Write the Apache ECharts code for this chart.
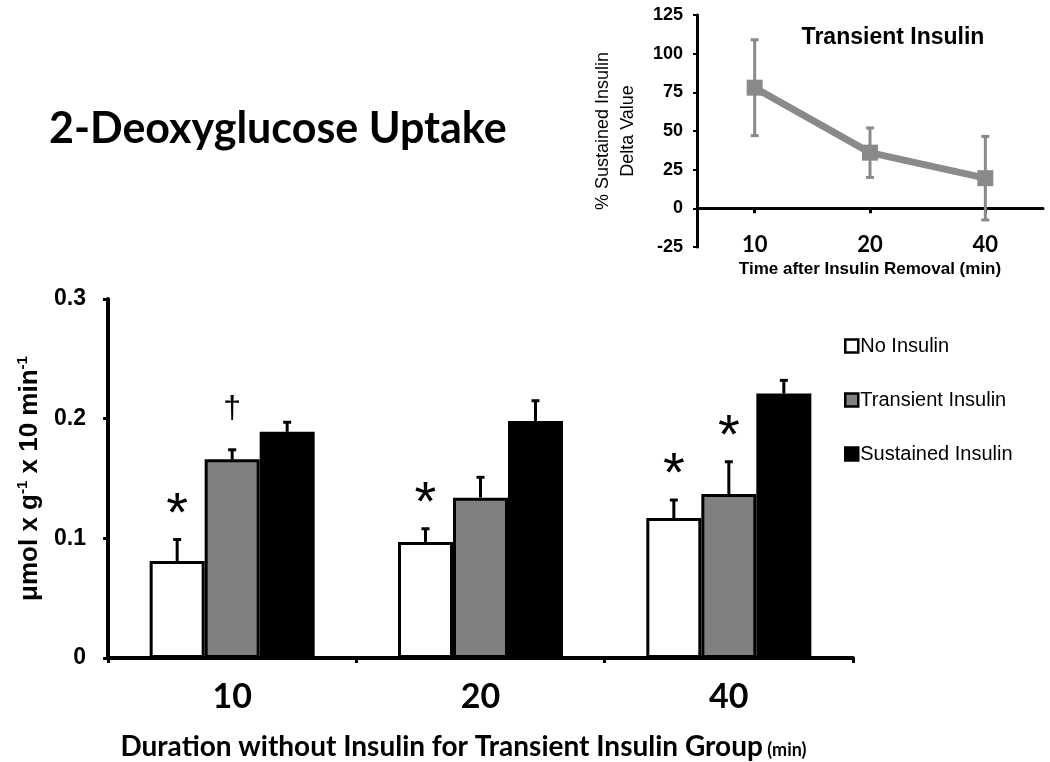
<!DOCTYPE html>
<html>
<head>
<meta charset="utf-8">
<script src="https://cdn.jsdelivr.net/npm/echarts@6/dist/echarts.min.js"></script>
<style>
html,body{margin:0;padding:0;background:#fff;}
#chart{width:1050px;height:762px;}
</style>
</head>
<body>
<div id="chart"></div>
<script>
// ---- Main chart data ----
const categories = ['10', '20', '40'];
const seriesNames = ['No Insulin', 'Transient Insulin', 'Sustained Insulin'];
const noInsulin = [0.081, 0.097, 0.117];
const noInsulinErr = [0.018, 0.011, 0.015];
const transientInsulin = [0.166, 0.134, 0.137];
const transientInsulinErr = [0.008, 0.017, 0.027];
const sustainedInsulin = [0.189, 0.198, 0.221];
const sustainedInsulinErr = [0.008, 0.017, 0.011];
// significance marks: [category index, series index, symbol]
const significance = [[0, 0, '*'], [0, 1, '\u2020'], [1, 0, '*'], [2, 0, '*'], [2, 1, '*']];

// ---- Inset data ----
const insetCategories = ['10', '20', '40'];
const insetMean = [78, 36, 19.5];
const insetErr = [31, 16, 27];

const BAR_W = 55;
const barValues = [noInsulin, transientInsulin, sustainedInsulin];
const barErrs = [noInsulinErr, transientInsulinErr, sustainedInsulinErr];
const barColors = ['#ffffff', '#808080', '#000000'];

const errData = [];
barValues.forEach((vals, s) => vals.forEach((v, i) => errData.push([i, v, barErrs[s][i], s])));
const sigData = significance.map(m => [m[0], barValues[m[1]][m[0]] + barErrs[m[1]][m[0]], m[1], m[2]]);
const insetErrData = insetMean.map((v, i) => [i, v - insetErr[i], v + insetErr[i]]);

const chart = echarts.init(document.getElementById('chart'));

const barSeries = seriesNames.map((name, s) => ({
  name: name,
  type: 'bar',
  xAxisIndex: 0, yAxisIndex: 0,
  barWidth: BAR_W,
  barGap: '0%',
  data: barValues[s],
  itemStyle: { color: barColors[s], borderColor: '#000', borderWidth: 3 },
  emphasis: { disabled: true },
  z: 2
}));

const ARIAL = 'Arial, "Liberation Sans"';

chart.setOption({
  animation: false,
  backgroundColor: '#fff',
  title: [
    { text: '2-Deoxyglucose Uptake', left: 44, top: 103,
      textStyle: { fontFamily: 'Lato', fontWeight: 'bold', fontSize: 43, color: '#000' } },
    { text: 'Transient Insulin', left: 888, top: 21, textAlign: 'center',
      textStyle: { fontFamily: ARIAL, fontWeight: 'bold', fontSize: 23, color: '#000' } }
  ],
  legend: {
    orient: 'vertical', left: 839, top: 331,
    itemWidth: 13, itemHeight: 13, itemGap: 34,
    icon: 'rect',
    data: seriesNames,
    itemStyle: { borderColor: '#000', borderWidth: 2.5 },
    textStyle: { fontFamily: ARIAL, fontSize: 20, color: '#000', padding: [0, 0, 0, -3] },
    selectedMode: false
  },
  grid: [
    { left: 108, right: 197, top: 299, bottom: 104, outerBoundsMode: 'none', containLabel: false },
    { left: 697, right: 7, top: 15, bottom: 515, outerBoundsMode: 'none', containLabel: false }
  ],
  xAxis: [
    { type: 'category', gridIndex: 0, data: categories,
      axisLine: { lineStyle: { color: '#000', width: 4 } },
      axisTick: { show: true, length: 5, lineStyle: { color: '#000', width: 3 } },
      axisLabel: { margin: 22, fontFamily: 'Lato', fontWeight: 'bold', fontSize: 34, color: '#000' },
      name: '{a|Duration without Insulin for Transient Insulin Group}{b| (min)}',
      nameLocation: 'middle', nameGap: 75,
      nameTextStyle: { padding: [0, 34, 0, 0],
        rich: { a: { fontFamily: 'Lato', fontWeight: 'bold', fontSize: 28, color: '#000' },
                b: { fontFamily: 'Lato', fontWeight: 'bold', fontSize: 18, color: '#000', padding: [6, 0, 0, 0] } } }
    },
    { type: 'category', gridIndex: 1, data: insetCategories,
      axisLine: { onZero: true, lineStyle: { color: '#000', width: 3 } },
      axisTick: { show: true, alignWithLabel: true, length: 5, lineStyle: { color: '#000', width: 3 } },
      axisLabel: { margin: -13, fontFamily: 'Lato', fontWeight: 'bold', fontSize: 22, color: '#000' },
      name: 'Time after Insulin Removal (min)', nameLocation: 'middle', nameGap: 14,
      nameTextStyle: { fontFamily: ARIAL, fontWeight: 'bold', fontSize: 17, color: '#000' }
    }
  ],
  yAxis: [
    { type: 'value', gridIndex: 0, min: 0, max: 0.3, interval: 0.1,
      splitLine: { show: false },
      axisLine: { show: true, lineStyle: { color: '#000', width: 4 } },
      axisTick: { show: true, length: 5, lineStyle: { color: '#000', width: 3 } },
      axisLabel: { margin: 22, fontFamily: ARIAL, fontWeight: 'bold', fontSize: 23, color: '#000' },
      name: '{a|\u03bcmol x g}{s|-1}{a| x 10 min}{s|-1}', nameLocation: 'middle', nameGap: 64,
      nameTextStyle: { padding: [0, 0, 0, 0],
        rich: { a: { fontFamily: ARIAL, fontWeight: 'bold', fontSize: 26, color: '#000' },
                s: { fontFamily: ARIAL, fontWeight: 'bold', fontSize: 15, color: '#000', padding: [0, 0, 14, 0] } } }
    },
    { type: 'value', gridIndex: 1, min: -25, max: 125, interval: 25,
      splitLine: { show: false },
      axisLine: { show: true, lineStyle: { color: '#000', width: 3 } },
      axisTick: { show: true, length: 4, lineStyle: { color: '#000', width: 2 } },
      axisLabel: { margin: 14, fontFamily: ARIAL, fontWeight: 'bold', fontSize: 18, color: '#000' },
      name: '% Sustained Insulin\nDelta Value', nameLocation: 'middle', nameGap: 56,
      nameTextStyle: { fontFamily: ARIAL, fontSize: 18, lineHeight: 25, color: '#000' }
    }
  ],
  series: barSeries.concat([
    { type: 'custom', xAxisIndex: 0, yAxisIndex: 0, data: errData, z: 3, silent: true,
      renderItem: function (params, api) {
        const cat = api.value(0), v = api.value(1), e = api.value(2), s = api.value(3);
        const p0 = api.coord([cat, v]);
        const p1 = api.coord([cat, v + e]);
        const x = p0[0] + (s - 1) * BAR_W;
        const st = { stroke: '#000', lineWidth: 3 };
        return { type: 'group', children: [
          { type: 'line', shape: { x1: x, y1: p0[1], x2: x, y2: p1[1] }, style: st },
          { type: 'line', shape: { x1: x - 4, y1: p1[1], x2: x + 4, y2: p1[1] }, style: st }
        ] };
      }
    },
    { type: 'custom', xAxisIndex: 0, yAxisIndex: 0, data: sigData, z: 4, silent: true,
      renderItem: function (params, api) {
        const cat = api.value(0), top = api.value(1), s = api.value(2);
        const sym = sigData[params.dataIndex][3];
        const p = api.coord([cat, top]);
        const x = p[0] + (s - 1) * BAR_W;
        const dagger = sym !== '*';
        return { type: 'text', x: x, y: p[1] - (dagger ? 25 : -4),
          style: { text: sym, fill: '#000', align: 'center', verticalAlign: 'bottom',
            font: dagger ? '32px "Liberation Sans", Arial' : '56px "Liberation Sans", Arial' } };
      }
    },
    { type: 'line', xAxisIndex: 1, yAxisIndex: 1, data: insetMean, z: 3,
      symbol: 'rect', symbolSize: 16,
      lineStyle: { color: '#8a8a8a', width: 7 },
      itemStyle: { color: '#8a8a8a' }, emphasis: { disabled: true } },
    { type: 'custom', xAxisIndex: 1, yAxisIndex: 1, data: insetErrData, z: 4, silent: true,
      renderItem: function (params, api) {
        const lo = api.coord([api.value(0), api.value(1)]);
        const hi = api.coord([api.value(0), api.value(2)]);
        const st = { stroke: '#8a8a8a', lineWidth: 3 };
        return { type: 'group', children: [
          { type: 'line', shape: { x1: lo[0], y1: lo[1], x2: hi[0], y2: hi[1] }, style: st },
          { type: 'line', shape: { x1: hi[0] - 4, y1: hi[1], x2: hi[0] + 4, y2: hi[1] }, style: st },
          { type: 'line', shape: { x1: lo[0] - 4, y1: lo[1], x2: lo[0] + 4, y2: lo[1] }, style: st }
        ] };
      }
    }
  ])
});
</script>
</body>
</html>
